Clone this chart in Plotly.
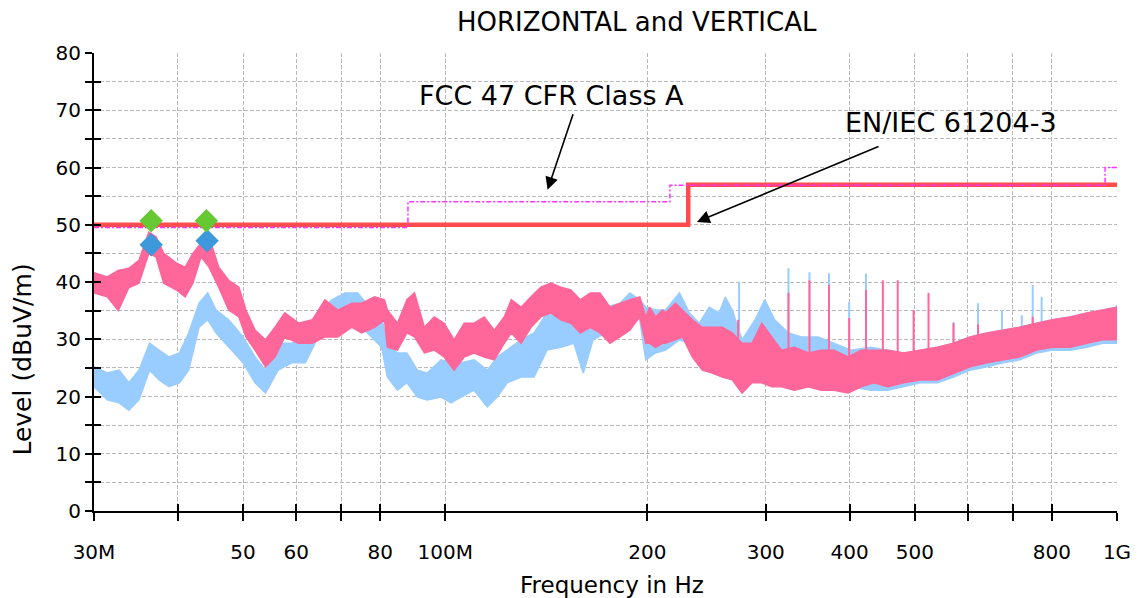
import numpy as np
import plotly.graph_objects as go

# ---- measured emission, vertical polarisation (pink): freq MHz, band top / bottom dBuV/m
vert_freq = [30.0, 31.4, 32.6, 33.8, 35.0, 36.2, 37.1, 38.1, 39.8, 41.0, 42.1, 43.3, 44.5, 46.0,
             47.6, 49.3, 50.5, 52.1, 54.0, 55.8, 57.7, 60.5, 63.4, 66.2, 69.2, 72.6, 75.1, 78.5,
             81.2, 82.0, 84.9, 87.7, 90.0, 93.1, 96.3, 99.6, 103.1, 106.7, 110.4, 114.3, 118.3,
             122.4, 125.4, 129.7, 134.2, 138.8, 143.6, 148.6, 153.8, 158.9, 164.4, 170.0, 175.9,
             182.0, 188.3, 194.8, 198.8, 201.5, 205.6, 210.6, 212.8, 220.2, 225.5, 233.3, 241.4,
             249.7, 258.4, 267.4, 276.6, 286.2, 296.0, 306.2, 316.7, 331.0, 347.3, 362.6, 379.0,
             397.9, 415.9, 434.7, 455.9, 481.3, 510.0, 540.4, 571.0, 604.5, 640.5, 676.3, 716.6,
             759.2, 801.8, 851.6, 902.0, 952.0, 1000.0]
vert_hi = [41.6, 40.9, 42.0, 42.4, 43.8, 48.7, 47.9, 45.0, 43.3, 42.6, 45.0, 46.8, 47.9, 42.6,
           40.3, 39.1, 35.1, 31.6, 29.9, 32.1, 34.6, 32.8, 33.4, 36.9, 35.1, 36.3, 36.3, 37.4,
           36.9, 35.1, 32.8, 36.9, 38.1, 32.1, 33.9, 32.8, 29.9, 32.8, 32.8, 33.9, 31.6,
           33.9, 36.9, 35.6, 37.4, 39.1, 39.8, 39.1, 38.6, 36.9, 38.1, 38.1, 35.6,
           36.3, 36.9, 37.4, 33.9, 35.6, 33.9, 35.1, 34.6, 36.3, 35.1, 33.4, 32.1,
           32.1, 32.1, 31.1, 29.3, 29.3, 32.8, 30.4, 28.1, 28.6, 27.6, 28.1, 28.1,
           26.9, 28.1, 28.1, 28.1, 27.6, 28.1, 28.6, 29.3, 30.4, 31.1, 31.6, 32.1,
           32.8, 33.4, 33.9, 34.6, 35.1, 35.6]
vert_lo = [38.1, 37.4, 35.0, 39.0, 39.8, 45.0, 44.4, 39.8, 38.6, 37.4, 39.8, 44.4, 42.6, 39.1,
           35.1, 33.9, 30.4, 28.1, 25.2, 26.9, 30.4, 29.3, 29.3, 30.4, 30.4, 32.1, 31.1, 32.1,
           33.4, 28.6, 28.1, 31.1, 30.4, 27.6, 28.1, 26.9, 24.6, 26.9, 27.6, 26.9, 26.4,
           29.3, 31.1, 29.3, 32.1, 33.9, 34.6, 33.4, 32.8, 31.1, 32.1, 31.1, 29.3,
           30.4, 31.6, 33.9, 29.3, 29.3, 28.6, 29.3, 29.3, 29.9, 30.4, 26.9, 24.6,
           24.1, 23.4, 22.9, 20.6, 22.4, 22.4, 21.7, 21.7, 21.1, 21.7, 21.1, 21.1,
           20.6, 21.7, 22.4, 21.7, 22.4, 22.9, 22.9, 24.1, 25.2, 25.9, 26.4, 26.9,
           28.1, 28.6, 28.6, 29.3, 29.9, 29.9]

# ---- measured emission, horizontal polarisation (light blue)
horz_freq = [30.0, 31.4, 32.7, 33.8, 35.0, 36.3, 37.5, 38.8, 40.2, 41.5, 43.0, 44.3, 45.6, 47.6,
             50.0, 52.1, 54.0, 56.4, 59.1, 61.9, 64.7, 67.8, 70.9, 74.1, 77.7, 80.4, 82.0, 84.9,
             87.7, 90.9, 94.0, 98.6, 102.0, 105.6, 110.4, 115.5, 119.5, 123.7, 129.7, 135.6,
             141.7, 148.6, 155.4, 160.5, 166.0, 173.5, 182.0, 188.3, 194.8, 198.8, 205.6, 212.8,
             223.2, 230.9, 238.9, 247.2, 255.8, 261.1, 267.4, 276.6, 289.2, 299.0, 309.3, 324.3,
             339.1, 358.9, 379.0, 402.0, 430.3, 455.9, 481.3, 510.0, 540.4, 571.0, 604.5, 640.5,
             676.3, 716.6, 759.2, 801.8, 851.6, 902.0, 952.0, 1000.0]
horz_hi = [25.2, 24.1, 24.6, 22.4, 24.6, 29.3, 28.1, 26.9, 27.6, 31.1, 36.3, 38.1, 35.1, 33.4,
           30.4, 26.9, 24.6, 29.3, 29.3, 29.9, 34.6, 36.9, 38.1, 38.1, 35.1, 33.9, 29.3, 27.6,
           27.6, 24.6, 24.1, 26.4, 25.9, 25.9, 26.4, 24.6, 26.9, 28.1, 29.9, 31.1,
           34.6, 33.9, 33.4, 32.8, 33.9, 35.6, 36.3, 38.1, 36.9, 35.6, 35.1, 35.1,
           38.1, 34.6, 32.8, 35.6, 34.6, 37.4, 35.1, 29.9, 33.4, 36.9, 33.4, 31.1,
           30.4, 30.4, 29.3, 28.1, 28.6, 28.1, 27.6, 28.1, 28.6, 29.3, 30.4, 31.1,
           31.6, 32.1, 32.8, 33.4, 33.9, 34.6, 35.1, 35.6]
horz_lo = [21.7, 19.4, 18.9, 17.6, 19.4, 24.6, 22.9, 21.7, 22.4, 24.6, 32.1, 33.4, 31.1, 28.6,
           25.9, 22.4, 20.6, 24.6, 25.9, 25.9, 30.4, 32.1, 33.4, 32.8, 30.4, 28.6, 23.4, 21.1,
           22.4, 19.9, 19.4, 19.9, 18.9, 19.9, 21.1, 18.2, 19.9, 22.4, 23.4, 23.4,
           28.1, 28.6, 29.3, 24.1, 29.9, 31.1, 30.4, 33.9, 33.4, 26.4, 27.6, 28.1,
           29.9, 29.3, 28.6, 26.9, 26.4, 25.9, 24.6, 21.7, 23.4, 23.4, 22.9, 22.4,
           22.4, 21.7, 21.7, 21.7, 21.1, 21.1, 21.7, 22.4, 22.4, 23.4, 24.6, 25.2,
           25.9, 26.4, 27.6, 28.1, 28.1, 28.6, 29.3, 29.3]

# ---- narrow-band peaks (MHz, dBuV/m)
vert_spike_freq = [272.9, 324.3, 348.5, 372.6, 399.3, 423.0, 448.2, 471.6, 498.0, 524.1, 571.0, 621.1, 749.0]
vert_spike_top = [33.4, 38.1, 40.3, 39.5, 33.7, 38.6, 40.3, 40.3, 35.1, 38.1, 32.8, 32.6, 33.9]
horz_spike_freq = [273.8, 324.3, 348.5, 372.6, 399.3, 423.0, 571.0, 621.1, 674.0, 721.5, 749.0, 772.3, 999.0]
horz_spike_top = [40.0, 42.4, 41.7, 41.5, 36.5, 41.5, 33.0, 36.3, 35.1, 34.2, 39.5, 37.4, 36.0]

# ---- limit lines (step edges in MHz, level in dBuV/m)
en_freq = [30, 230, 1000]
en_level = [50, 57, 57]
fcc_freq = [30, 88, 216, 960, 1000]
fcc_level = [49.5, 54, 56.9, 60, 60]

# ---- final measurement markers
qp_freq = [36.5, 44.1]
qp_level = [50.7, 50.7]
pk_freq = [36.5, 44.2]
pk_level = [46.5, 47.2]

# ---- axis ticks
x_tickvals = [30, 40, 50, 60, 70, 80, 100, 200, 300, 400, 500, 600, 700, 800, 1000]
x_ticktext = ["30M", "", "50", "60", "", "80", "100M", "200", "300", "400", "500", "", "", "800", "1G"]
y_tickvals = list(range(0, 81, 5))
y_ticktext = [str(v) if v % 10 == 0 else "" for v in y_tickvals]

PINK = "#ff6699"
BLUE = "#99ccff"
FONT = "DejaVu Sans"


def band(freq, hi, lo, color, name):
    xs = list(freq) + list(freq)[::-1]
    ys = list(hi) + list(lo)[::-1]
    return go.Scatter(x=xs, y=ys, mode="lines", fill="toself", fillcolor=color,
                      line=dict(color=color, width=1.5), name=name,
                      hoverinfo="skip", showlegend=False)


def spikes(sf, st, freq, lo, color):
    base = np.interp(np.log10(sf), np.log10(freq), lo)
    xs, ys = [], []
    for f, t, b in zip(sf, st, base):
        xs += [f, f, None]
        ys += [b, t, None]
    return go.Scatter(x=xs, y=ys, mode="lines", line=dict(color=color, width=2),
                      hoverinfo="skip", showlegend=False)


fig = go.Figure()
fig.add_trace(band(horz_freq, horz_hi, horz_lo, BLUE, "Horizontal"))
fig.add_trace(spikes(horz_spike_freq, horz_spike_top, horz_freq, horz_lo, BLUE))
fig.add_trace(band(vert_freq, vert_hi, vert_lo, PINK, "Vertical"))
fig.add_trace(spikes(vert_spike_freq, vert_spike_top, vert_freq, vert_lo, PINK))

fig.add_trace(go.Scatter(x=en_freq, y=en_level, mode="lines",
                         line=dict(color="#ff4d4d", width=4.5, shape="hv"), showlegend=False))
fig.add_trace(go.Scatter(x=fcc_freq, y=fcc_level, mode="lines",
                         line=dict(color="#ff33ff", width=1.5, shape="hv", dash="5px,2px,2px,2px"),
                         showlegend=False))

fig.add_trace(go.Scatter(x=pk_freq, y=pk_level, mode="markers",
                         marker=dict(symbol="diamond", size=18, color="#3d98dc"), showlegend=False))
fig.add_trace(go.Scatter(x=qp_freq, y=qp_level, mode="markers",
                         marker=dict(symbol="diamond", size=18, color="#66c832"), showlegend=False))

# overlay axes give the ticks that cross the axis lines
fig.add_trace(go.Scatter(x=[100], y=[40], xaxis="x2", yaxis="y2", mode="markers",
                         marker=dict(opacity=0), hoverinfo="skip", showlegend=False))

xr = [np.log10(30), np.log10(1000)]
common_grid = dict(gridcolor="#b9b9b9", gridwidth=1.3, griddash="4px,2px")

fig.update_layout(
    width=1143, height=598,
    margin=dict(l=94, r=16, t=53, b=87),
    paper_bgcolor="white", plot_bgcolor="white",
    font=dict(family=FONT, color="black", size=20),
    xaxis=dict(type="log", range=xr, tickvals=x_tickvals, ticktext=x_ticktext,
               showline=True, linecolor="black", linewidth=2,
               ticks="outside", ticklen=8, tickwidth=2, tickcolor="black",
               ticklabelstandoff=14, tickfont=dict(size=20, family=FONT),
               zeroline=False, **common_grid),
    yaxis=dict(range=[0, 80], tickvals=y_tickvals, ticktext=y_ticktext,
               showline=True, linecolor="black", linewidth=2,
               ticks="outside", ticklen=7, tickwidth=2, tickcolor="black",
               tickfont=dict(size=20, family=FONT), zeroline=False, **common_grid),
    xaxis2=dict(type="log", range=xr, tickvals=x_tickvals, overlaying="x", anchor="y",
                side="bottom", ticks="inside", ticklen=7, tickwidth=2, tickcolor="black",
                showticklabels=False, showgrid=False, showline=False, zeroline=False),
    yaxis2=dict(range=[0, 80], tickvals=y_tickvals, overlaying="y", anchor="x", side="left",
                ticks="inside", ticklen=7, tickwidth=2, tickcolor="black",
                showticklabels=False, showgrid=False, showline=False, zeroline=False),
    showlegend=False,
)

annotations = [
    dict(text="HORIZONTAL and VERTICAL", xref="paper", yref="paper", x=0.531, y=1.068,
         xanchor="center", yanchor="middle", showarrow=False, font=dict(size=26)),
    dict(text="Frequency in Hz", xref="paper", yref="paper", x=0.506, y=-0.162,
         xanchor="center", yanchor="middle", showarrow=False, font=dict(size=23)),
    dict(text="Level (dBuV/m)", xref="paper", yref="paper", x=-0.0697, y=0.33,
         xanchor="center", yanchor="middle", textangle=-90, showarrow=False, font=dict(size=25)),
    dict(text="FCC 47 CFR Class A", xref="paper", yref="paper", x=0.4468, y=0.908,
         xanchor="center", yanchor="middle", showarrow=False, font=dict(size=27)),
    dict(text="EN/IEC 61204-3", xref="paper", yref="paper", x=0.732, y=0.849,
         xanchor="left", yanchor="middle", showarrow=False, font=dict(size=27)),
    dict(text="", x=np.log10(142), y=56.1, xref="x", yref="y", ax=26, ay=-77,
         showarrow=True, arrowhead=2, arrowsize=1.6, arrowwidth=1.6, arrowcolor="black"),
    dict(text="", x=np.log10(237), y=50.5, xref="x", yref="y", ax=183, ay=-76,
         showarrow=True, arrowhead=2, arrowsize=1.6, arrowwidth=1.6, arrowcolor="black"),
]
fig.update_layout(annotations=annotations)

fig.write_html("out.html")
